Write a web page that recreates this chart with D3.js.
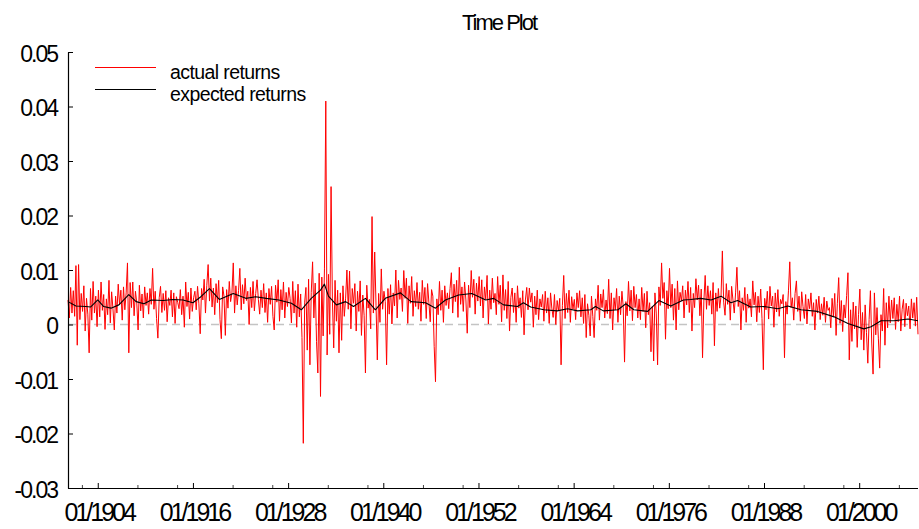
<!DOCTYPE html>
<html>
<head>
<meta charset="utf-8">
<script src="https://cdn.jsdelivr.net/npm/d3@7"></script>
<style>
  html, body { margin: 0; padding: 0; background: #fff; }
  svg { display: block; }
  text { font-family: "Liberation Sans", Arial, sans-serif; fill: #000; }
</style>
</head>
<body>
<svg id="chart" width="919" height="529"></svg>
<script>
// ---------------- data ----------------
const chartTitle = "Time Plot";
const seriesNames = ["actual returns", "expected returns"];

// actual returns: one value every 2 months, starting April 1900
const actualStart = "1900-04";
const monthsPerPoint = 2;
const actualReturns = [
 .0045,.0012,.0068,.0021,.0062,.0015,.0108,-.0038,.0110,.0009,.0057,.0024,
 .0071,-.0012,.0048,.0019,-.0052,.0066,.0008,.0079,.0021,.0052,-.0004,.0063,
 .0014,.0078,.0026,.0055,-.0009,.0047,.0018,.0081,.0003,.0060,.0029,-.0010,
 .0052,.0021,.0074,.0036,.0063,.0008,.0069,.0027,.0058,.0113,-.0052,.0077,
 .0031,.0078,.0016,.0061,.0040,-.0010,.0072,.0025,.0056,.0012,.0069,.0035,
 .0058,.0019,.0066,.0037,.0103,.0028,.0061,.0011,-.0025,.0049,.0070,.0022,
 .0057,.0026,.0062,.0005,.0049,.0035,.0063,.0014,.0058,.0002,.0051,.0040,
 .0029,.0064,.0018,.0052,-.0005,.0078,.0033,.0059,.0010,.0067,.0024,.0049,
 .0061,.0027,.0070,.0038,-.0017,.0066,.0045,.0083,.0021,.0072,.0110,.0043,
 .0085,.0032,.0067,.0018,.0075,.0040,.0081,.0009,-.0026,.0069,.0052,-.0020,
 .0064,.0030,.0079,.0042,.0058,.0113,.0021,.0071,.0036,.0062,.0103,.0027,
 .0073,.0038,.0085,.0044,.0061,.0000,.0068,.0031,.0079,.0025,.0057,.0082,
 .0046,.0019,.0063,.0031,.0075,.0022,.0058,.0004,.0066,.0037,.0070,.0015,
 -.0010,.0072,.0041,.0082,.0006,.0064,.0027,.0078,.0012,.0059,.0033,.0068,
 .0048,.0003,.0079,.0021,.0062,-.0005,.0074,.0014,.0056,-.0024,-.0218,.0041,
 .0068,-.0047,.0083,-.0074,.0059,.0115,.0012,.0076,-.0031,-.0089,.0094,-.0132,
 .0087,-.0021,.0102,.0410,-.0056,.0092,-.0018,.0253,.0047,-.0043,.0081,.0006,
 .0063,-.0052,.0058,-.0029,.0071,.0015,.0047,.0100,.0028,.0098,-.0008,.0066,
 .0039,.0075,-.0012,.0061,.0024,.0080,-.0020,.0054,.0017,-.0089,.0072,.0030,
 .0046,-.0008,.0198,.0021,.0133,.0035,-.0065,.0057,.0004,.0102,.0028,.0061,
 .0042,-.0074,.0066,.0019,.0073,.0001,.0058,.0034,.0100,.0012,.0081,.0046,
 .0067,.0024,.0099,.0048,.0085,.0002,.0071,.0039,.0088,.0015,.0062,.0033,
 .0077,.0028,.0059,.0006,.0081,.0037,.0068,.0011,.0075,.0040,.0005,.0064,
 .0052,-.0040,-.0105,.0047,.0018,.0079,.0026,.0063,.0004,.0071,.0035,.0058,
 .0029,.0066,.0095,.0021,.0074,.0042,.0081,.0013,.0105,.0037,.0069,.0024,
 .0078,.0045,-.0016,.0072,.0031,.0099,.0050,.0083,.0019,.0076,.0043,.0088,
 .0034,.0082,.0012,.0069,.0046,.0090,.0001,.0063,.0028,.0085,.0040,.0057,
 .0018,.0088,.0037,.0072,.0005,.0091,.0026,.0064,.0011,.0079,-.0012,.0050,
 .0067,.0022,.0058,.0004,.0071,.0030,.0049,.0013,.0062,-.0019,.0045,.0068,
 .0027,.0067,.0041,.0058,-.0005,.0052,.0018,.0063,.0009,.0047,.0032,.0055,
 .0006,.0061,.0021,.0049,.0002,.0058,.0030,.0013,.0055,.0000,.0044,.0025,
 .0048,-.0074,.0035,.0090,.0011,.0057,.0022,.0063,.0004,.0051,.0028,.0046,
 .0009,.0058,.0031,.0062,.0014,.0049,.0002,.0055,-.0024,.0038,.0017,-.0021,
 .0052,.0015,-.0024,.0047,.0026,.0072,.0008,.0056,.0031,.0064,.0012,.0045,
 .0020,.0083,.0011,.0058,-.0010,.0049,.0027,.0066,.0004,.0052,.0018,.0061,
 .0033,-.0069,.0042,.0016,.0079,.0025,.0063,.0007,.0070,.0031,.0055,.0012,
 .0047,.0009,.0068,.0024,.0057,-.0006,.0061,.0018,.0040,-.0050,.0033,-.0067,
 .0058,.0021,-.0074,.0069,.0035,.0113,.0048,.0077,-.0027,.0062,.0029,.0103,
 .0031,.0074,.0008,.0066,-.0010,.0080,.0027,.0059,.0043,.0071,.0012,.0063,
 .0036,.0079,.0022,.0068,-.0012,.0057,.0031,.0084,.0045,.0072,.0016,.0065,
 -.0061,.0043,.0090,.0028,.0071,.0035,.0062,.0019,.0077,-.0039,.0058,.0024,
 .0066,.0030,.0052,.0135,.0041,.0017,.0075,.0037,.0063,.0008,.0070,.0045,
 .0021,.0058,.0105,.0033,.0062,-.0010,.0049,.0026,.0068,.0004,.0056,.0030,
 .0047,.0014,.0080,.0036,.0059,.0005,.0052,.0022,.0065,.0011,-.0083,.0048,
 .0027,.0061,.0010,.0070,.0034,.0052,-.0005,.0058,.0023,.0064,.0015,.0046,
 .0038,.0055,-.0061,.0042,.0019,.0063,.0115,.0031,.0049,.0008,.0057,.0080,
 .0024,.0052,.0006,.0060,.0033,.0011,.0055,.0001,.0047,.0029,.0058,.0015,
 .0040,-.0010,.0046,.0021,.0052,.0009,.0038,.0017,.0050,.0004,.0043,.0026,
 .0031,-.0006,.0048,.0015,.0057,-.0020,.0039,.0086,.0002,.0044,-.0013,.0036,
 .0012,.0053,.0095,-.0065,.0027,-.0031,.0041,-.0008,.0034,-.0042,.0018,.0065,
 -.0028,.0022,-.0047,.0036,-.0015,-.0071,.0009,.0062,-.0034,-.0091,.0058,-.0019,
 .0031,-.0025,-.0080,.0018,-.0012,.0066,-.0038,.0040,-.0006,.0052,.0003,.0045,
 .0011,.0049,-.0009,.0037,.0005,.0052,-.0012,.0028,.0046,-.0004,.0039,.0016,
 .0034,-.0008,.0047,.0012,.0040,-.0003,.0050,-.0018
];

// expected returns: read at irregular dates
const expectedDates = [
 "1900-04","1901-04","1902-07","1903-02","1904-01","1904-10","1905-09","1906-09","1907-12","1908-11",
 "1909-11","1910-10","1912-04","1913-07","1914-10","1916-01","1917-01","1918-02","1919-05","1921-02",
 "1922-09","1923-12","1925-04","1926-11","1928-06","1929-09","1930-12","1932-02","1932-08","1933-02",
 "1934-02","1935-04","1936-04","1937-10","1939-01","1940-04","1942-03","1943-07","1945-05","1946-08",
 "1947-11","1949-07","1951-03","1952-12","1953-12","1955-03","1956-12","1957-09","1958-08","1960-04",
 "1961-12","1963-04","1964-07","1966-03","1966-10","1967-10","1969-08","1970-08","1971-08","1973-05",
 "1974-10","1976-04","1977-11","1978-10","1980-01","1981-05","1982-08","1983-11","1984-09","1986-05",
 "1988-01","1989-10","1991-01","1992-09","1994-10","1996-11","1998-08","2000-08","2001-07","2002-10",
 "2004-06","2006-03","2007-06"
];
const expectedReturns = [
 .0042,.0034,.0033,.0032,.0045,.0033,.0030,.0036,.0055,.0042,
 .0038,.0045,.0044,.0046,.0045,.0040,.0051,.0066,.0046,.0057,
 .0048,.0051,.0048,.0045,.0039,.0027,.0048,.0063,.0074,.0052,
 .0036,.0042,.0033,.0048,.0027,.0048,.0058,.0042,.0040,.0030,
 .0045,.0054,.0057,.0045,.0048,.0036,.0033,.0040,.0032,.0027,
 .0025,.0029,.0025,.0027,.0033,.0025,.0027,.0038,.0027,.0024,
 .0044,.0034,.0045,.0046,.0048,.0045,.0052,.0040,.0044,.0032,
 .0033,.0029,.0034,.0027,.0024,.0014,.0002,-.0008,-.0004,.0007,
 .0007,.0010,.0007
];

// axes
const yTickValues = [0.05, 0.04, 0.03, 0.02, 0.01, 0, -0.01, -0.02, -0.03];
const yTickLabels = ["0.05", "0.04", "0.03", "0.02", "0.01", "0", "-0.01", "-0.02", "-0.03"];
const xLabelYears = [1904, 1916, 1928, 1940, 1952, 1964, 1976, 1988, 2000];
const xMinorYears = [1902, 1909, 1914, 1921, 1926, 1933, 1938, 1945, 1950, 1957, 1962, 1969,
                     1974, 1981, 1986, 1993, 1998, 2005];
const xEnd = "2007-06";

// ---------------- chart ----------------
(function () {
const parseMonth = d3.timeParse("%Y-%m");
const startDate = parseMonth(actualStart);
const actualData = actualReturns.map((v, i) => ({
  date: d3.timeMonth.offset(startDate, i * monthsPerPoint), value: v }));
const expectedData = expectedDates.map((d, i) => ({ date: parseMonth(d), value: expectedReturns[i] }));

const svg = d3.select("#chart");
const mLeft = 68, mRight = 918, mTop = 52, mBottom = 488;

const x = d3.scaleTime().domain([startDate, parseMonth(xEnd)]).range([mLeft, mRight]);
const y = d3.scaleLinear().domain([-0.03, 0.05]).range([mBottom, mTop]);

// zero reference line
svg.append("line")
  .attr("x1", x(startDate)).attr("x2", x(parseMonth(xEnd)))
  .attr("y1", y(0)).attr("y2", y(0))
  .attr("stroke", "#c4c4c4").attr("stroke-width", 1.6)
  .attr("stroke-dasharray", "8,5");

const line = d3.line().x(d => x(d.date)).y(d => y(d.value));

svg.append("path").datum(actualData)
  .attr("d", line).attr("fill", "none")
  .attr("stroke", "#ff0000").attr("stroke-width", 1).attr("stroke-linejoin", "round");

svg.append("path").datum(expectedData)
  .attr("d", line).attr("fill", "none")
  .attr("stroke", "#000").attr("stroke-width", 1.1).attr("stroke-linejoin", "round");

// y axis
const yAxis = d3.axisLeft(y).tickValues(yTickValues)
  .tickSizeInner(-5).tickSizeOuter(0).tickPadding(12)
  .tickFormat((d, i) => yTickLabels[i]);
const gy = svg.append("g").attr("transform", `translate(${mLeft},0)`).call(yAxis);
gy.select(".domain").attr("stroke", "#000").attr("stroke-width", 1.2);
gy.selectAll(".tick line").attr("stroke", "#000").attr("stroke-width", 1);
gy.selectAll(".tick text")
  .attr("font-family", '"Liberation Sans", Arial, sans-serif')
  .attr("font-size", 23).attr("letter-spacing", -2)
  .attr("dy", "0.4em").attr("x", -11);

// x axis: minor ticks
const gxMinor = svg.append("g").attr("transform", `translate(0,${mBottom})`)
  .call(d3.axisBottom(x).tickValues(xMinorYears.map(yr => new Date(yr, 0, 1)))
    .tickSizeInner(-3).tickSizeOuter(0).tickFormat(""));
gxMinor.select(".domain").remove();
gxMinor.selectAll(".tick line").attr("stroke", "#444");

// x axis: labelled ticks
const fmt = d3.timeFormat("%m/%Y");
const gx = svg.append("g").attr("transform", `translate(0,${mBottom})`)
  .call(d3.axisBottom(x).tickValues(xLabelYears.map(yr => new Date(yr, 0, 1)))
    .tickSizeInner(-5).tickSizeOuter(0).tickPadding(14).tickFormat(fmt));
gx.select(".domain").attr("stroke", "#000").attr("stroke-width", 1.2)
  .attr("d", `M${mLeft},0.5H${mRight}`);
gx.selectAll(".tick line").attr("stroke", "#000");
gx.selectAll(".tick text")
  .attr("font-family", '"Liberation Sans", Arial, sans-serif')
  .attr("font-size", 25).attr("letter-spacing", -3)
  .attr("dx", 1).attr("y", 15).attr("dy", "0.71em");

// title
svg.append("text").attr("x", 499).attr("y", 30)
  .attr("text-anchor", "middle").attr("font-size", 22).attr("letter-spacing", -2)
  .text(chartTitle);

// legend
const legendColors = ["#ff0000", "#000"];
const legend = svg.append("g");
seriesNames.forEach((name, i) => {
  const ly = 67.5 + i * 22;
  legend.append("line").attr("x1", 95).attr("x2", 156).attr("y1", ly).attr("y2", ly)
    .attr("stroke", legendColors[i]).attr("stroke-width", 1.1);
  legend.append("text").attr("x", 170).attr("y", ly + 11)
    .attr("font-size", 19.5).attr("letter-spacing", -0.6).text(name);
});
})();
</script>
</body>
</html>
